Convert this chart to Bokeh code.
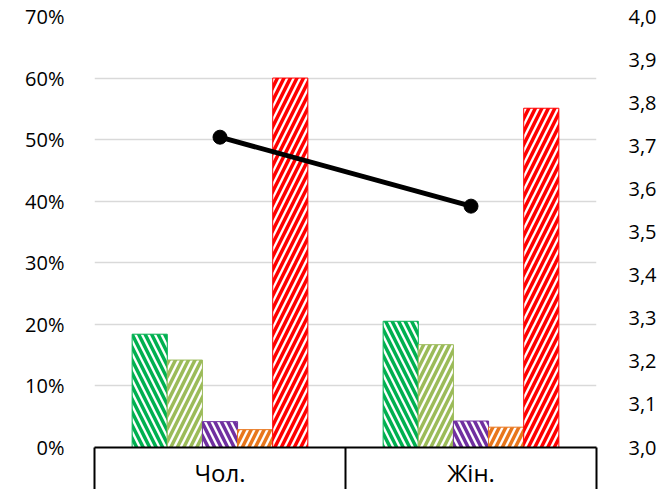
from bokeh.plotting import figure
from bokeh.models import (ColumnDataSource, Range1d, FixedTicker,
                          NumeralTickFormatter, CustomJSTickFormatter, LinearAxis)
from bokeh.transform import dodge
from bokeh.embed import file_html
from bokeh.resources import INLINE

# ---- data ----
categories = ["Чол.", "Жін."]
series_names = ["s1", "s2", "s3", "s4", "s5"]
s1 = [0.184, 0.205]
s2 = [0.142, 0.167]
s3 = [0.042, 0.043]
s4 = [0.029, 0.033]
s5 = [0.600, 0.551]
mean_score = [3.72, 3.56]
pct_ticks = [0.0, 0.1, 0.2, 0.3, 0.4, 0.5, 0.6, 0.7]
score_ticks = [3.0, 3.1, 3.2, 3.3, 3.4, 3.5, 3.6, 3.7, 3.8, 3.9, 4.0]

colors = ["#00B050", "#9BBB59", "#7030A0", "#E8761C", "#FF0000"]
hatches = ["left_diagonal_line", "right_diagonal_line", "left_diagonal_line",
           "right_diagonal_line", "right_diagonal_line"]
FONT = "Open Sans"

n = len(categories)
centers = [i + 0.5 for i in range(n)]
src = ColumnDataSource(dict(pos=centers, s1=s1, s2=s2, s3=s3, s4=s4, s5=s5, score=mean_score))

p = figure(frame_width=502, frame_height=431, x_range=Range1d(0, n), y_range=Range1d(0, 0.7),
           output_backend="svg", toolbar_location=None, x_axis_location=None,
           min_border_left=94, min_border_right=62, min_border_top=16, min_border_bottom=42)
p.outline_line_color = None
p.background_fill_color = "white"
p.xgrid.grid_line_color = None
p.ygrid.grid_line_color = "#D9D9D9"
p.ygrid.grid_line_width = 1.5
p.ygrid.ticker = FixedTicker(ticks=pct_ticks)

# left axis
ya = p.yaxis[0]
ya.ticker = FixedTicker(ticks=pct_ticks)
ya.formatter = NumeralTickFormatter(format="0%")
ya.axis_line_color = None
ya.major_tick_line_color = None
ya.minor_tick_line_color = None
ya.major_label_standoff = 24
ya.major_label_text_font = FONT
ya.major_label_text_font_size = "20px"
ya.major_label_text_color = "#000000"

# right axis
p.extra_y_ranges = {"score": Range1d(3.0, 4.0)}
ra = LinearAxis(y_range_name="score", ticker=FixedTicker(ticks=score_ticks),
                formatter=CustomJSTickFormatter(code="return tick.toFixed(1).replace('.', ',')"))
ra.axis_line_color = None
ra.major_tick_line_color = None
ra.minor_tick_line_color = None
ra.major_label_standoff = 26
ra.major_label_text_font = FONT
ra.major_label_text_font_size = "20px"
ra.major_label_text_color = "#000000"
p.add_layout(ra, "right")

# bottom category axis drawn as a box
xa = LinearAxis(ticker=FixedTicker(ticks=centers, minor_ticks=list(range(n + 1))),
                formatter=CustomJSTickFormatter(args=dict(cats=categories),
                                                code="return cats[Math.floor(tick)]"))
xa.axis_line_color = "black"
xa.axis_line_width = 2
xa.major_tick_line_color = None
xa.major_tick_out = 0
xa.major_tick_in = 0
xa.minor_tick_line_color = "black"
xa.minor_tick_line_width = 2
xa.minor_tick_out = 42
xa.minor_tick_in = 0
xa.major_label_standoff = -34
xa.major_label_text_font = FONT
xa.major_label_text_font_size = "24px"
xa.major_label_text_color = "#000000"
p.add_layout(xa, "below")

# bars
w = 0.14
offsets = [-2 * w, -w, 0, w, 2 * w]
for name, off, c, h in zip(series_names, offsets, colors, hatches):
    p.vbar(x=dodge("pos", off), top=name, bottom=0, width=w, source=src,
           fill_color="white", line_color=c, line_width=1,
           hatch_pattern=h, hatch_color=c, hatch_scale=13, hatch_weight=3.5)

# line on secondary axis
p.line(x="pos", y="score", source=src, y_range_name="score", line_color="black", line_width=5)
p.scatter(x="pos", y="score", source=src, y_range_name="score", size=14,
          fill_color="black", line_color="black")

open("out.html", "w").write(file_html(p, INLINE))
